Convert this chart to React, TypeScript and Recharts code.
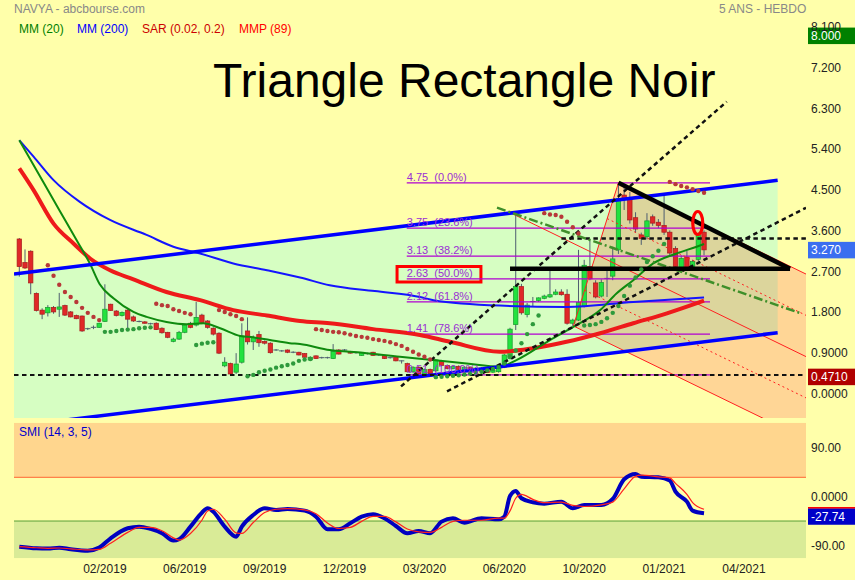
import React from 'react';
import { ComposedChart, XAxis, YAxis, Line, Area, Bar, ReferenceLine, ReferenceDot, ReferenceArea } from 'recharts';

const FONT = '"Liberation Sans", Arial, Helvetica, sans-serif';

// ---------- axes ----------
const X_MIN = -0.93;
const X_MAX = 137.87;
const Y_MIN = -0.4415;
const Y_MAX = 8.344;
const SMI_MIN = -104.2;
const SMI_MAX = 142.4;

const xTickIdx = [15, 29, 43, 57, 71, 85, 99, 113, 127];
const xTickLabels = ['02/2019', '06/2019', '09/2019', '12/2019', '03/2020', '06/2020', '10/2020', '01/2021', '04/2021'];
const priceTicks = [0, 0.9, 1.8, 2.7, 3.6, 4.5, 5.4, 6.3, 7.2, 8.1];
const smiTicks = [-90, 0, 90];

// ---------- weekly candles ----------
const opens = [3.51, 2.99, 3.24, 2.31, 1.94, 1.88, 2.0, 1.96, 2.04, 1.9, 1.82, 1.81, 1.53, 1.56, 1.56, 1.69, 2.07, 1.92, 1.82, 1.94,
  1.79, 1.69, 1.68, 1.64, 1.65, 1.54, 1.45, 1.25, 1.3, 1.45, 1.65, 1.61, 1.83, 1.7, 1.54, 1.43, 0.71, 0.76, 0.57, 0.79,
  1.48, 1.24, 1.4, 1.25, 1.21, 1.06, 1.04, 1.06, 1.01, 1.01, 0.98, 0.84, 0.93, 0.89, 0.89, 0.87, 1.06, 1.06, 1.02, 1.0,
  0.94, 0.98, 1.01, 0.95, 0.94, 0.89, 0.91, 0.82, 0.76, 0.58, 0.68, 0.53, 0.63, 0.6, 0.81, 0.72, 0.65, 0.7, 0.63, 0.68,
  0.62, 0.66, 0.6, 0.57, 0.58, 0.68, 0.87, 1.62, 2.46, 1.84, 2.13, 2.15, 2.2, 2.23, 2.29, 2.34, 2.29, 1.65, 1.72, 2.03,
  2.9, 2.54, 2.25, 2.64, 2.69, 3.27, 4.48, 4.38, 3.98, 3.6, 3.56, 4.0, 3.88, 3.81, 3.66, 3.3, 2.86, 3.11, 2.88, 3.06, 3.66];
const highs = [3.53, 3.28, 3.26, 2.33, 1.98, 2.05, 2.03, 2.32, 2.06, 1.92, 1.84, 1.82, 1.55, 1.6, 1.66, 2.51, 2.08, 1.94, 1.91, 1.96,
  1.82, 1.71, 1.7, 1.66, 1.67, 1.56, 1.46, 1.33, 1.48, 1.63, 1.68, 2.12, 1.86, 1.72, 1.56, 1.45, 0.9, 0.78, 0.99, 1.65,
  1.78, 1.38, 1.48, 1.27, 1.23, 1.08, 1.06, 1.07, 1.03, 1.02, 0.99, 0.92, 0.94, 0.91, 0.91, 1.19, 1.08, 1.08, 1.04, 1.02,
  1.01, 1.0, 1.02, 0.97, 0.95, 0.91, 0.93, 0.83, 0.78, 0.7, 0.7, 0.65, 0.65, 0.86, 0.84, 0.74, 0.72, 0.72, 0.7, 0.7,
  0.68, 0.68, 0.62, 0.64, 0.7, 0.97, 1.55, 4.08, 2.52, 2.1, 2.23, 2.22, 2.28, 2.82, 2.4, 2.4, 2.4, 1.75, 3.27, 3.05,
  3.48, 2.6, 2.62, 2.82, 3.34, 4.75, 4.72, 4.55, 4.1, 3.65, 4.08, 4.05, 3.95, 4.48, 3.7, 3.35, 3.15, 3.25, 3.05, 3.65, 3.7];
const lows = [2.68, 2.85, 2.29, 1.91, 1.74, 1.8, 1.86, 1.79, 1.81, 1.78, 1.74, 1.46, 1.5, 1.52, 1.55, 1.68, 1.92, 1.8, 1.8, 1.52,
  1.68, 1.67, 1.64, 1.62, 1.5, 1.42, 1.32, 1.23, 1.28, 1.43, 1.54, 1.58, 1.63, 1.53, 1.38, 0.97, 0.68, 0.51, 0.53, 0.76,
  1.18, 1.06, 1.13, 1.18, 0.98, 1.04, 1.02, 0.99, 0.99, 0.94, 0.89, 0.82, 0.86, 0.87, 0.87, 0.86, 0.96, 1.04, 0.98, 0.98,
  0.93, 0.96, 0.93, 0.93, 0.86, 0.87, 0.81, 0.76, 0.56, 0.55, 0.46, 0.5, 0.5, 0.58, 0.7, 0.63, 0.63, 0.62, 0.61, 0.61,
  0.6, 0.59, 0.55, 0.55, 0.56, 0.66, 0.85, 1.5, 1.84, 1.78, 2.01, 2.12, 2.18, 2.21, 2.27, 2.26, 1.62, 1.59, 1.7, 2.0,
  2.6, 2.2, 2.22, 2.23, 2.6, 3.18, 4.15, 3.85, 3.65, 3.38, 3.5, 3.8, 3.75, 3.6, 3.15, 2.85, 2.8, 2.8, 2.82, 3.0, 3.15];
const closes = [2.9, 2.87, 2.54, 1.93, 1.85, 2.0, 1.9, 2.01, 1.83, 1.79, 1.75, 1.48, 1.52, 1.56, 1.65, 1.96, 1.93, 1.82, 1.89, 1.74,
  1.7, 1.69, 1.65, 1.64, 1.51, 1.44, 1.34, 1.3, 1.45, 1.61, 1.56, 1.78, 1.66, 1.56, 1.41, 0.99, 0.79, 0.53, 0.75, 1.37,
  1.24, 1.33, 1.22, 1.21, 1.0, 1.06, 1.04, 1.01, 1.01, 0.95, 0.9, 0.9, 0.87, 0.89, 0.89, 1.03, 0.97, 1.06, 0.99, 1.0,
  1.0, 0.98, 0.94, 0.95, 0.87, 0.89, 0.82, 0.82, 0.58, 0.68, 0.53, 0.63, 0.53, 0.84, 0.72, 0.65, 0.7, 0.63, 0.68, 0.62,
  0.66, 0.6, 0.56, 0.62, 0.68, 0.95, 1.52, 2.46, 1.88, 2.05, 2.13, 2.21, 2.25, 2.28, 2.34, 2.28, 1.65, 1.72, 2.11, 2.93,
  2.63, 2.23, 2.55, 2.64, 3.07, 4.4, 4.38, 3.93, 3.73, 3.52, 3.91, 3.86, 3.81, 3.66, 3.2, 2.9, 3.08, 2.86, 3.01, 3.6, 3.27];

// ---------- moving averages (read at points) ----------
const mm20Pts = [[0, 5.69], [4.2, 4.77], [7.1, 4.13], [10.1, 3.47], [12.4, 2.96], [14.1, 2.51], [16.5, 2.2], [20, 1.9], [22.3, 1.79],
  [25.8, 1.68], [29.3, 1.63], [32.2, 1.65], [35.2, 1.54], [38.7, 1.37], [41, 1.34], [43.9, 1.28], [47.4, 1.21], [49.2, 1.19],
  [54.4, 1.06], [60.2, 1.0], [66.7, 0.91], [72.5, 0.84], [78.4, 0.76], [84.2, 0.69], [87.2, 0.84], [93, 1.28], [97.1, 1.57],
  [101.8, 1.94], [104.7, 2.31], [107.6, 2.6], [111.1, 2.97], [115.2, 3.19], [118.7, 3.34], [120, 3.4]];
const mm200Pts = [[0, 5.69], [2.5, 5.33], [6, 4.81], [10.6, 4.33], [15.9, 3.93], [22.3, 3.6], [27, 3.34], [31.7, 3.19], [37.5, 2.97],
  [43.4, 2.82], [49.2, 2.66], [54.4, 2.49], [62.3, 2.36], [70.2, 2.23], [72.6, 2.16], [84.2, 2.04], [95.9, 2.01], [107.6, 2.12], [120, 2.22]];
const mmp89Pts = [[0, 5.07], [2.5, 4.59], [6, 3.85], [9.5, 3.41], [12.4, 3.08], [15.9, 2.82], [20, 2.62], [25.8, 2.34], [31.7, 2.16],
  [37.5, 1.94], [43.4, 1.82], [49.2, 1.7], [54.4, 1.65], [62, 1.52], [70.2, 1.39], [75.5, 1.24], [84.2, 1.02], [90.1, 1.1],
  [95.9, 1.24], [101.8, 1.43], [107.6, 1.65], [113.5, 1.87], [120, 2.15]];

// ---------- parabolic SAR ----------
const sarAbove = [[5, 2.93], [6, 2.7], [7, 2.5], [8, 2.34], [9, 2.23], [10, 2.12], [11, 1.99], [12, 1.88], [13, 1.79], [14, 1.72],
  [24, 2.08], [25, 2.05], [26, 2.03], [27, 1.96], [28, 1.92], [29, 1.88], [30, 1.85],
  [35, 1.94], [36, 1.9], [37, 1.85], [38, 1.81], [39, 1.74],
  [52, 1.52], [53, 1.5], [54, 1.48], [55, 1.46], [56, 1.45], [57, 1.43], [58, 1.4], [59, 1.37], [60, 1.35], [61, 1.33], [62, 1.3],
  [63, 1.28], [64, 1.26], [65, 1.23], [66, 1.19], [67, 1.15], [68, 1.08], [69, 1.02], [70, 0.96], [71, 0.91], [72, 0.85],
  [92, 4.08], [93, 4.05], [94, 4.04], [95, 4.0], [96, 3.89], [97, 3.77], [98, 3.63],
  [114, 4.77], [115, 4.72], [116, 4.68], [117, 4.65], [118, 4.61], [119, 4.57], [120, 4.53]];
const sarBelow = [[15, 1.46], [16, 1.46], [17, 1.48], [18, 1.5], [19, 1.51], [20, 1.52], [21, 1.54], [22, 1.55], [23, 1.56],
  [31, 1.17], [32, 1.2], [33, 1.22], [34, 1.23],
  [40, 0.48], [41, 0.51], [42, 0.57], [43, 0.6], [44, 0.63], [45, 0.67], [46, 0.7], [47, 0.73], [48, 0.76], [49, 0.82], [50, 0.85], [51, 0.86],
  [73, 0.46], [74, 0.47], [75, 0.48], [76, 0.49], [77, 0.5], [78, 0.52], [79, 0.54], [80, 0.56], [81, 0.58], [82, 0.61], [83, 0.64],
  [84, 0.68], [85, 0.76], [86, 0.92], [87, 1.05], [88, 1.21], [89, 1.41], [90, 1.63], [91, 1.82],
  [99, 1.6], [100, 1.61], [101, 1.63], [102, 1.68], [103, 1.76], [104, 1.88], [105, 2.03], [106, 2.25], [107, 2.48], [108, 2.66],
  [109, 2.84], [110, 3.0], [111, 3.13], [112, 3.25], [113, 3.4]];

// ---------- SMI (14,3,5) ----------
const smiIdx = [0, 3, 5, 7, 9, 12, 14, 16, 19, 21, 23, 25, 27, 28, 30, 32, 33, 34, 36, 38, 39, 41, 43, 45, 47, 50, 52, 54, 56, 58,
  60, 62, 64, 66, 68, 70, 72, 74, 76, 78, 81, 84, 85, 86, 87, 88, 90, 92, 95, 97, 99, 102, 104, 106, 108, 109, 112, 114, 115, 117, 118, 120];
const smiVals = [-83, -86, -86.6, -84.8, -87.7, -90.3, -84.8, -67.8, -49.6, -46.6, -50.8, -58.6, -72, -69.5, -46.6, -21.2, -13.2, -19.4,
  -46.6, -64.8, -46.6, -25.4, -13.2, -16.3, -14.5, -17.5, -28.5, -51.4, -51.4, -40.5, -28.5, -24.1, -31.4, -45.4, -58.6, -54.5, -58.6,
  -37.5, -31.4, -39.4, -31.4, -33.2, -28.5, 9.2, 18.3, 5, -2.3, -4.8, -1.2, -13.2, -7.2, -7.2, 3.7, 39.5, 49.2, 44.3, 43.2, 37, 17, -1.2, -17.5, -22.3];
const sigVals = [-83, -85, -86, -85.5, -87, -89, -88, -77, -57, -48, -48, -54, -67, -71, -59, -35, -18, -15, -33, -58, -59, -39, -21,
  -15, -14, -16, -23, -40, -50, -48, -37, -28, -28, -38, -51, -56, -57, -48, -37, -35, -35, -31, -31, -18, 5, 12, 3, -3, -2, -8, -10,
  -7, -2, 22, 45, 47, 44, 42, 32, 12, -3, -15];
const SMI_HIGH = 43.1;
const SMI_LOW = -36.4;

// ---------- drawn annotations (in chart units: bar index, price) ----------
const fibLevels = [4.75, 3.75, 3.13, 2.63, 2.12, 1.41, 0.51];
const fibPcts = ['0.0%', '23.6%', '38.2%', '50.0%', '61.8%', '78.6%', '100.0%'];
const FIB_FROM = 67.9;
const FIB_TO = 121.05;
const channelLow = [[-0.93, -0.627], [132.9, 1.441]];
const channelHigh = [[-0.93, 2.737], [132.9, 4.806]];
const dashedUp1 = [[66.9, 0.256], [123.97, 6.541]];
const dashedUp2 = [[74.96, 0.148], [137.87, 4.199]];
const dashDotGreen = [[83.72, 4.201], [136.8, 1.876]];
const triTop = [[105, 4.75], [135.07, 2.854]];
const triBase = [[86.0, 2.854], [135.07, 2.854]];
const dashedH1 = [[95.0, 3.52], [137.87, 3.52]];
const dashedH2 = [[-0.93, 0.51], [137.87, 0.51]];
const forkP0 = { i: 86.2, p: 4.08 };
const forkA = { i: 97.1, p: 1.59 };
const forkB = { i: 105, p: 4.75 };
const FORK_END = 140;

const lastPrice = 3.27;
const lastMarker = 0.471;
const topMarker = 8.0;
const lastSmi = -27.74;

// ---------- derived ----------
const candles = opens.map((o, i) => ({ i, o, h: highs[i], l: lows[i], c: closes[i] }));
const toPts = (arr) => arr.map(([i, p]) => ({ i, p }));
const smiData = smiIdx.map((i, k) => ({ i, smi: smiVals[k], sig: sigVals[k] }));

const forkMid = { i: (forkA.i + forkB.i) / 2, p: (forkA.p + forkB.p) / 2 };
const forkSlope = (forkMid.p - forkP0.p) / (forkMid.i - forkP0.i);
const along = (q, i) => q.p + forkSlope * (i - q.i);
const q1 = { i: (forkA.i + forkMid.i) / 2, p: (forkA.p + forkMid.p) / 2 };
const q2 = { i: (forkB.i + forkMid.i) / 2, p: (forkB.p + forkMid.p) / 2 };

const forkPoly = [forkA, forkB, { i: FORK_END, p: along(forkB, FORK_END) }, { i: FORK_END, p: along(forkA, FORK_END) }];
const channelPoly = [
  { i: channelLow[0][0], p: channelLow[0][1] }, { i: channelLow[1][0], p: channelLow[1][1] },
  { i: channelHigh[1][0], p: channelHigh[1][1] }, { i: channelHigh[0][0], p: channelHigh[0][1] },
];

function polyArea(poly) {
  let s = 0;
  for (let k = 0; k < poly.length; k++) {
    const a = poly[k], b = poly[(k + 1) % poly.length];
    s += a.i * b.p - b.i * a.p;
  }
  return s / 2;
}
function clipPoly(subject, clip) {
  const sign = polyArea(clip) > 0 ? 1 : -1;
  let out = subject;
  for (let k = 0; k < clip.length; k++) {
    const a = clip[k], b = clip[(k + 1) % clip.length];
    const side = (pt) => (b.i - a.i) * (pt.p - a.p) - (b.p - a.p) * (pt.i - a.i);
    const input = out;
    out = [];
    for (let m = 0; m < input.length; m++) {
      const cur = input[m], prev = input[(m + input.length - 1) % input.length];
      const dc = side(cur), dp = side(prev);
      const cin = sign * dc >= 0, pin = sign * dp >= 0;
      const inter = () => {
        const t = dp / (dp - dc);
        return { i: prev.i + t * (cur.i - prev.i), p: prev.p + t * (cur.p - prev.p) };
      };
      if (cin) {
        if (!pin) out.push(inter());
        out.push(cur);
      } else if (pin) out.push(inter());
    }
  }
  return out;
}
function polyToRange(poly) {
  const xs = Array.from(new Set(poly.map((q) => +q.i.toFixed(6)))).sort((a, b) => a - b);
  return xs.map((x) => {
    const ys = [];
    for (let k = 0; k < poly.length; k++) {
      const a = poly[k], b = poly[(k + 1) % poly.length];
      const lo = Math.min(a.i, b.i) - 1e-6, hi = Math.max(a.i, b.i) + 1e-6;
      if (x < lo || x > hi) continue;
      if (Math.abs(b.i - a.i) < 1e-6) ys.push(a.p, b.p);
      else ys.push(a.p + ((x - a.i) / (b.i - a.i)) * (b.p - a.p));
    }
    return { i: x, r: [Math.min(...ys), Math.max(...ys)] };
  });
}
const channelArea = polyToRange(channelPoly);
const forkArea = polyToRange(forkPoly);
const tanArea = polyToRange(clipPoly(forkPoly, channelPoly));

const seg = (pts) => [{ x: pts[0][0], y: pts[0][1] }, { x: pts[1][0], y: pts[1][1] }];
const segQ = (a, b) => [{ x: a.i, y: a.p }, { x: b.i, y: b.p }];

const fmtPrice = (v) => (v >= 1.8 ? v.toFixed(3) : v.toFixed(4));
const fmtSmi = (v) => (v === 0 ? '0.0000' : v.toFixed(2));

// ---------- shapes ----------
const Candle = (props) => {
  const { x, y, width, height, payload } = props;
  if (x == null || y == null || !payload) return null;
  const top = Math.min(y, y + height);
  const bot = Math.max(y, y + height);
  const { o, h, l, c } = payload;
  const span = h - l || 1;
  const pix = (v) => top + ((h - v) / span) * (bot - top);
  const cx = x + width / 2;
  const up = c >= o;
  const yo = pix(o), yc = pix(c);
  const bt = Math.min(yo, yc), bb = Math.max(yo, yc);
  const bw = 4.4;
  return (
    <g>
      <line x1={cx} x2={cx} y1={top} y2={bot} stroke="#4E5E70" strokeWidth={1} />
      {bb - bt < 0.9 ? (
        <line x1={cx - bw / 2 - 0.5} x2={cx + bw / 2 + 0.5} y1={bt} y2={bt} stroke="#4E5E70" strokeWidth={1} />
      ) : (
        <rect x={cx - bw / 2} y={bt} width={bw} height={bb - bt}
          fill={up ? '#22E23E' : '#E02828'} stroke={up ? '#169A2C' : '#A81A1A'} strokeWidth={0.7} />
      )}
    </g>
  );
};

const PriceTick = (props) => {
  const { x, y, payload } = props;
  return <text x={x} y={y} fill="#222" fontSize={12} fontFamily={FONT}>{fmtPrice(payload.value)}</text>;
};
const SmiTick = (props) => {
  const { x, y, payload } = props;
  return <text x={x} y={y} fill="#222" fontSize={12} fontFamily={FONT}>{fmtSmi(payload.value)}</text>;
};

const valueBox = (text, fill, redTop) => (props) => {
  const { cx, cy } = props;
  return (
    <g>
      <rect x={cx + 2} y={cy - 8} width={49} height={16.5} fill={fill} />
      {redTop ? <line x1={cx + 2} x2={cx + 51} y1={cy - 8.5} y2={cy - 8.5} stroke="#FF0000" strokeWidth={1.5} /> : null}
      <text x={cx + 5} y={cy + 4.5} fill="#FFFFFF" fontSize={12} fontFamily={FONT}>{text}</text>
    </g>
  );
};

const fibLabel = (text) => (props) => (
  <text x={props.cx} y={props.cy - 2.3} fill="#9A2ED4" fontSize={11} fontFamily={FONT} style={{ whiteSpace: 'pre' }}>{text}</text>
);

const Oval = (props) => (
  <ellipse cx={props.cx} cy={props.cy} rx={5} ry={11.5} fill="none" stroke="#FF0000" strokeWidth={3.2} />
);

const noAnim = { isAnimationActive: false };

export default function App() {
  return (
    <div style={{ position: 'absolute', left: 0, top: 0, width: 855, height: 580, background: '#FFFFAA', overflow: 'hidden', fontFamily: FONT }}>
      <div style={{ position: 'absolute', left: 0, top: 0 }}>
        <ComposedChart width={855} height={420} data={candles} margin={{ top: 20, right: 0, bottom: 2, left: 14 }}>
          <XAxis type="number" dataKey="i" domain={[X_MIN, X_MAX]} allowDataOverflow hide height={0} />
          <YAxis type="number" orientation="right" domain={[Y_MIN, Y_MAX]} ticks={priceTicks} interval={0} allowDataOverflow
            width={49} tickLine={false} axisLine={false} tickSize={0} tickMargin={5} tick={<PriceTick />} />

          <Area data={channelArea} dataKey="r" type="linear" stroke="none" fill="#D6FEC2" fillOpacity={1} dot={false} activeDot={false} {...noAnim} />
          <Area data={forkArea} dataKey="r" type="linear" stroke="none" fill="#FFD696" fillOpacity={1} dot={false} activeDot={false} {...noAnim} />
          <Area data={tanArea} dataKey="r" type="linear" stroke="none" fill="#DCD59C" fillOpacity={1} dot={false} activeDot={false} {...noAnim} />

          {fibLevels.map((lv) => (
            <ReferenceLine key={'f' + lv} segment={[{ x: FIB_FROM, y: lv }, { x: FIB_TO, y: lv }]} stroke="#B000D0" strokeWidth={1.2} ifOverflow="hidden" />
          ))}

          <ReferenceLine segment={segQ(forkA, forkB)} stroke="#FF2020" strokeWidth={1} ifOverflow="hidden" />
          <ReferenceLine segment={segQ(forkP0, { i: FORK_END, p: along(forkP0, FORK_END) })} stroke="#FF2020" strokeWidth={1} ifOverflow="hidden" />
          <ReferenceLine segment={segQ(forkA, { i: FORK_END, p: along(forkA, FORK_END) })} stroke="#FF2020" strokeWidth={1} ifOverflow="hidden" />
          <ReferenceLine segment={segQ(forkB, { i: FORK_END, p: along(forkB, FORK_END) })} stroke="#FF2020" strokeWidth={1} ifOverflow="hidden" />
          <ReferenceLine segment={segQ(q1, { i: FORK_END, p: along(q1, FORK_END) })} stroke="#FF2020" strokeWidth={1} strokeDasharray="2 3" ifOverflow="hidden" />
          <ReferenceLine segment={segQ(q2, { i: FORK_END, p: along(q2, FORK_END) })} stroke="#FF2020" strokeWidth={1} strokeDasharray="2 3" ifOverflow="hidden" />

          <Line data={toPts(mm200Pts)} dataKey="p" type="monotone" stroke="#1414FF" strokeWidth={2} dot={false} activeDot={false} {...noAnim} />
          <Line data={toPts(mmp89Pts)} dataKey="p" type="monotone" stroke="#EE1A1A" strokeWidth={4} dot={false} activeDot={false} {...noAnim} />
          <Line data={toPts(mm20Pts)} dataKey="p" type="monotone" stroke="#0E8A0E" strokeWidth={2} dot={false} activeDot={false} {...noAnim} />

          <Bar dataKey={(d) => [d.l, d.h]} barSize={5} shape={<Candle />} {...noAnim} />

          <Line data={toPts(sarAbove)} dataKey="p" stroke="none" dot={{ r: 2.2, fill: '#B83838', stroke: 'none' }} activeDot={false} {...noAnim} />
          <Line data={toPts(sarBelow)} dataKey="p" stroke="none" dot={{ r: 2.2, fill: '#2E9A3C', stroke: 'none' }} activeDot={false} {...noAnim} />

          <ReferenceLine segment={seg(channelHigh)} stroke="#0000FF" strokeWidth={3.5} ifOverflow="hidden" />
          <ReferenceLine segment={seg(channelLow)} stroke="#0000FF" strokeWidth={3.5} ifOverflow="hidden" />
          <ReferenceLine segment={seg(dashedH2)} stroke="#111" strokeWidth={2} strokeDasharray="4.5 3.5" ifOverflow="hidden" />
          <ReferenceLine segment={seg(dashedH1)} stroke="#111" strokeWidth={2.5} strokeDasharray="4.5 3.5" ifOverflow="hidden" />
          <ReferenceLine segment={seg(dashedUp1)} stroke="#111" strokeWidth={2.5} strokeDasharray="4.5 3.5" ifOverflow="hidden" />
          <ReferenceLine segment={seg(dashedUp2)} stroke="#111" strokeWidth={2.5} strokeDasharray="4.5 3.5" ifOverflow="hidden" />
          <ReferenceLine segment={seg(dashDotGreen)} stroke="#3F8F2A" strokeWidth={2.5} strokeDasharray="9 3 2 3" ifOverflow="hidden" />
          <ReferenceLine segment={seg(triBase)} stroke="#000" strokeWidth={4.5} ifOverflow="hidden" />
          <ReferenceLine segment={seg(triTop)} stroke="#000" strokeWidth={4.5} ifOverflow="hidden" />

          {fibLevels.map((lv, k) => (
            <ReferenceDot key={'fl' + lv} x={FIB_FROM} y={lv} r={1} shape={fibLabel(lv.toFixed(2) + '  (' + fibPcts[k] + ')')} />
          ))}
          <ReferenceArea x1={66.2} x2={80.9} y1={2.561} y2={2.903} fill="none" stroke="#FF0000" strokeWidth={3} />
          <ReferenceDot x={118.9} y={3.863} r={1} shape={Oval} />

          <ReferenceDot x={X_MAX} y={topMarker} r={1} shape={valueBox(topMarker.toFixed(3), '#008000', false)} />
          <ReferenceDot x={X_MAX} y={lastPrice} r={1} shape={valueBox(lastPrice.toFixed(3), '#3A6EF0', false)} />
          <ReferenceDot x={X_MAX} y={lastMarker} r={1} shape={valueBox(lastMarker.toFixed(4), '#B00000', false)} />
        </ComposedChart>
      </div>

      <div style={{ position: 'absolute', left: 0, top: 420 }}>
        <ComposedChart width={855} height={160} data={smiData} margin={{ top: 2.7, right: 0, bottom: 0, left: 14 }}>
          <XAxis type="number" dataKey="i" domain={[X_MIN, X_MAX]} allowDataOverflow ticks={xTickIdx} interval={0}
            tickFormatter={(v) => xTickLabels[xTickIdx.indexOf(v)] || ''} tickLine={false} axisLine={false} tickSize={0}
            tickMargin={6.5} height={21.7} tick={{ fill: '#222', fontSize: 12, fontFamily: FONT }} />
          <YAxis type="number" orientation="right" domain={[SMI_MIN, SMI_MAX]} ticks={smiTicks} interval={0} allowDataOverflow
            width={49} tickLine={false} axisLine={false} tickSize={0} tickMargin={5} tick={<SmiTick />} />

          <Area data={[{ i: X_MIN, r: [SMI_HIGH, SMI_MAX] }, { i: X_MAX, r: [SMI_HIGH, SMI_MAX] }]} dataKey="r" type="linear"
            stroke="none" fill="#FFD68E" fillOpacity={1} dot={false} activeDot={false} {...noAnim} />
          <Area data={[{ i: X_MIN, r: [SMI_MIN, SMI_LOW] }, { i: X_MAX, r: [SMI_MIN, SMI_LOW] }]} dataKey="r" type="linear"
            stroke="none" fill="#D9EB97" fillOpacity={1} dot={false} activeDot={false} {...noAnim} />
          <ReferenceLine y={SMI_HIGH} stroke="#FF6633" strokeWidth={1} />
          <ReferenceLine y={SMI_LOW} stroke="#5AA036" strokeWidth={1} />

          <Line dataKey="smi" type="monotone" stroke="#0000C0" strokeWidth={4} dot={false} activeDot={false} {...noAnim} />
          <Line dataKey="sig" type="monotone" stroke="#FF2020" strokeWidth={1.2} dot={false} activeDot={false} {...noAnim} />

          <ReferenceDot x={X_MAX} y={lastSmi} r={1} shape={valueBox(lastSmi.toFixed(2), '#0000C8', true)} />
        </ComposedChart>
      </div>

      <svg width={855} height={580} style={{ position: 'absolute', left: 0, top: 0, pointerEvents: 'none' }}>
        <text x={14} y={13.3} fill="#888888" fontSize={12} fontFamily={FONT}>NAVYA - abcbourse.com</text>
        <text x={719} y={12.6} fill="#888888" fontSize={12} fontFamily={FONT}>5 ANS - HEBDO</text>
        <text x={19} y={33.3} fill="#008000" fontSize={12} fontFamily={FONT}>MM (20)</text>
        <text x={77} y={33.3} fill="#0000FF" fontSize={12} fontFamily={FONT}>MM (200)</text>
        <text x={142} y={33.3} fill="#CC0000" fontSize={12} fontFamily={FONT}>SAR (0.02, 0.2)</text>
        <text x={239} y={33.3} fill="#FF0000" fontSize={12} fontFamily={FONT}>MMP (89)</text>
        <text x={213} y={97} fill="#000000" fontSize={48} fontFamily={FONT}>Triangle Rectangle Noir</text>
        <text x={19} y={436} fill="#0000CC" fontSize={12} fontFamily={FONT}>SMI (14, 3, 5)</text>
      </svg>
    </div>
  );
}
